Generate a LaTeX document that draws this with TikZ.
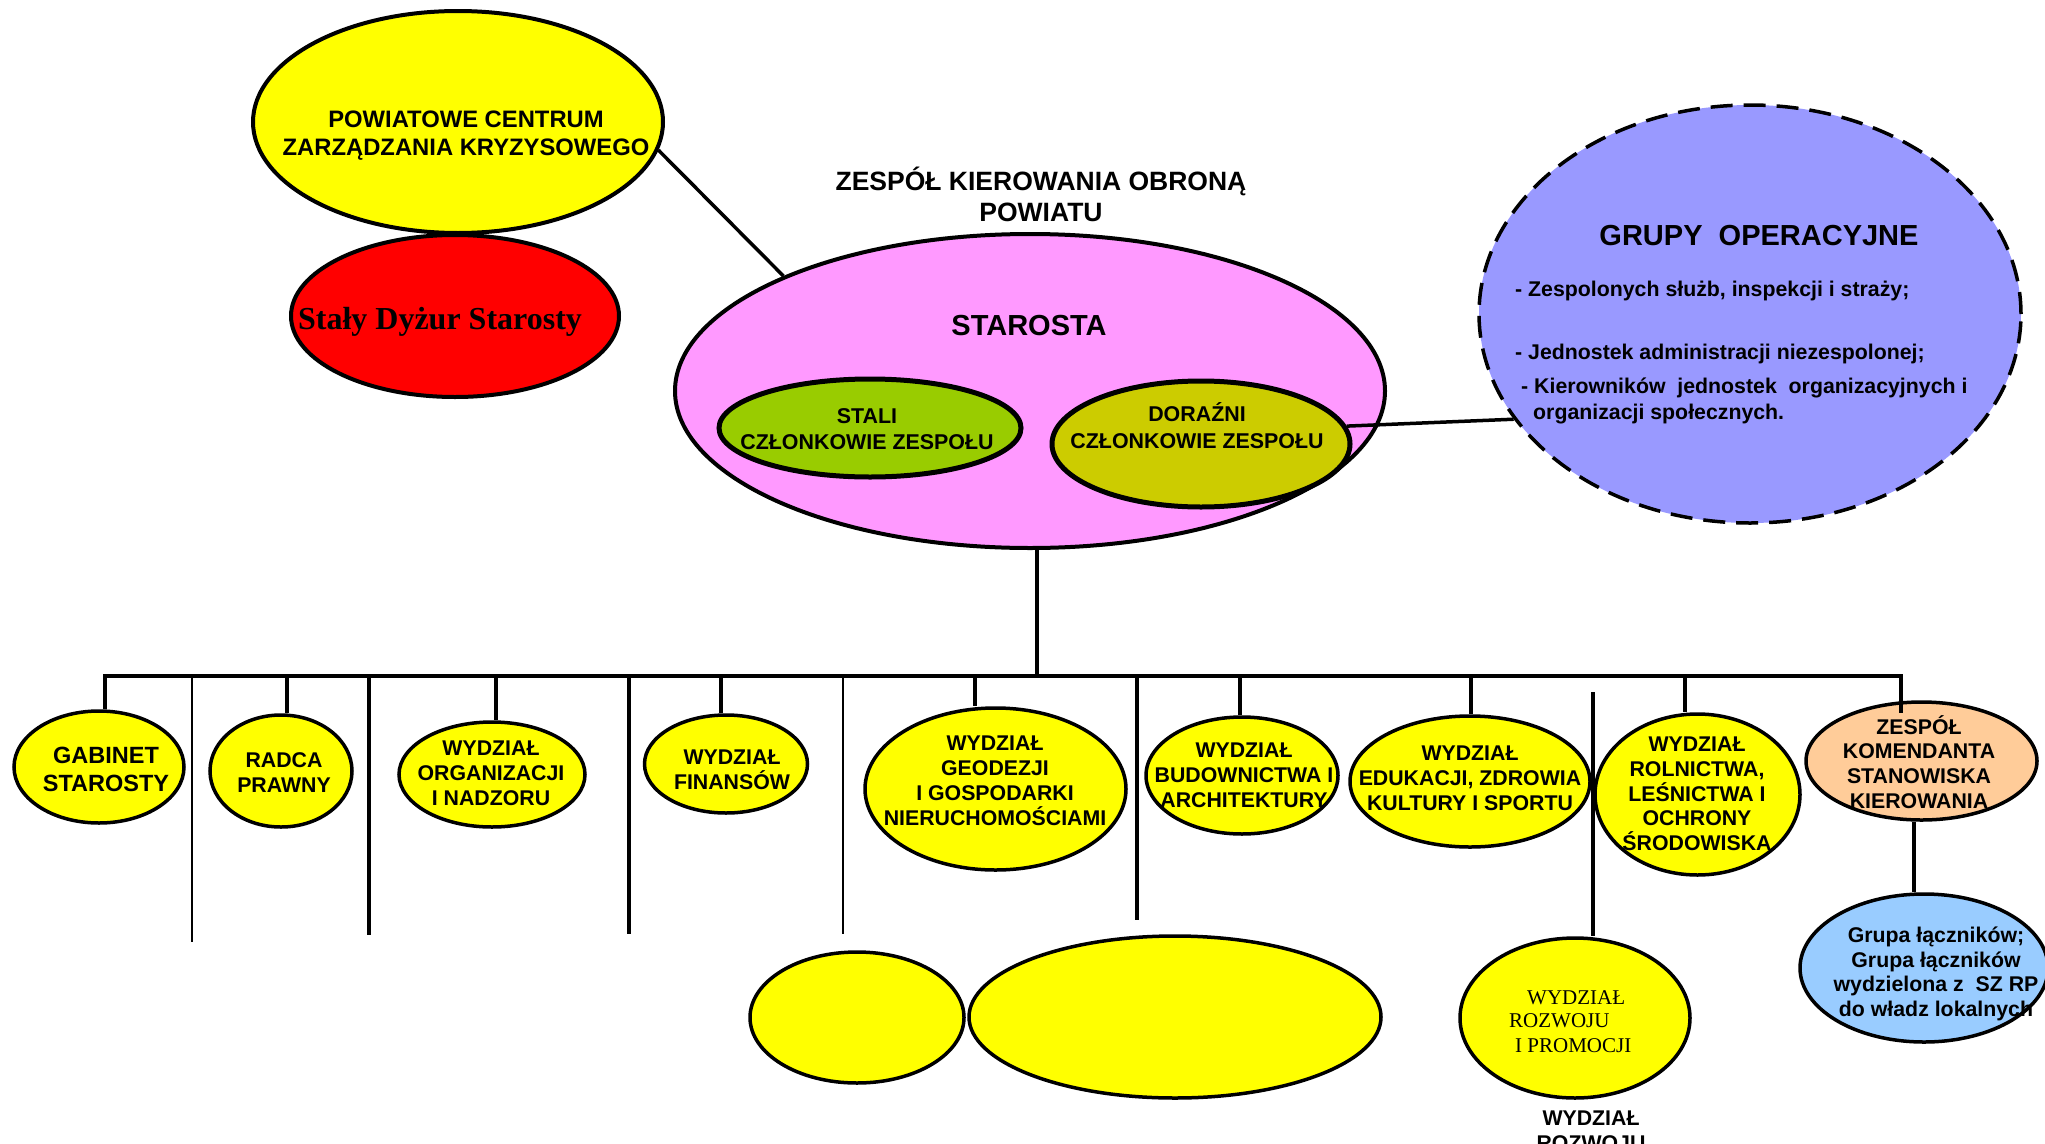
\documentclass[tikz,border=0pt]{standalone}
\usepackage{fontspec}
\setmainfont{Liberation Sans}
\newfontfamily\seriffont{Liberation Serif}
\usetikzlibrary{shapes.geometric}
\definecolor{cyel}{HTML}{FFFF00}
\definecolor{cred}{HTML}{FF0000}
\definecolor{cpink}{HTML}{FF99FF}
\definecolor{cgreen}{HTML}{99CC00}
\definecolor{colive}{HTML}{CCCC00}
\definecolor{cviolet}{HTML}{9999FF}
\definecolor{cpeach}{HTML}{FFCC99}
\definecolor{clblue}{HTML}{99CCFF}
\begin{document}
\begin{tikzpicture}[x=1pt,y=-1pt,
  ell/.style={ellipse, draw=black, line width=3.5pt, inner sep=0pt},
  bigell/.style={ellipse, draw=black, line width=4pt, inner sep=0pt},
  lbl/.style={font=\bfseries\fontsize{21.3}{25}\selectfont, align=center, inner sep=0pt},
  conn/.style={line width=4.3pt},
  thinconn/.style={line width=2.7pt},
  link/.style={line width=3.5pt},
]
\useasboundingbox (0,0) rectangle (2045,1143);

% ---------- upper part ----------
\node[bigell, fill=cyel, minimum width=410pt, minimum height=222pt] (pczk) at (458,122) {};
\node[font=\bfseries\fontsize{23.8}{28}\selectfont, align=center, inner sep=0pt] (pczkt) at (466,135.5) {POWIATOWE CENTRUM\\ZARZĄDZANIA KRYZYSOWEGO};

\node[bigell, fill=cred, minimum width=328pt, minimum height=162pt] (dyzur) at (455,316) {};
\node[font=\seriffont\bfseries\fontsize{32}{38}\selectfont, anchor=base, inner sep=0pt] (dyzurt) at (440,329) {Stały Dyżur Starosty};

\node[font=\bfseries\fontsize{26.5}{31}\selectfont, align=center, inner sep=0pt] (title) at (1041,194) {ZESPÓŁ KIEROWANIA OBRONĄ\\POWIATU};

\node[bigell, fill=cpink, minimum width=710pt, minimum height=314pt] (star) at (1030,391) {};
\node[font=\bfseries\fontsize{29}{34}\selectfont, anchor=base, inner sep=0pt] (start) at (1029,335.5) {STAROSTA};

\node[ell, line width=5pt, fill=cgreen, minimum width=302pt, minimum height=98pt] (stali) at (870,428) {};
\node[lbl, font=\bfseries\fontsize{21.4}{26}\selectfont] (stalit) at (867,429) {STALI\\CZŁONKOWIE ZESPOŁU};

\node[ell, line width=5pt, fill=colive, minimum width=298pt, minimum height=126pt] (dor) at (1201,444) {};
\node[lbl, font=\bfseries\fontsize{21.4}{27}\selectfont] (dort) at (1197,426) {DORAŹNI\\CZŁONKOWIE ZESPOŁU};

\node[ellipse, draw=black, line width=3.5pt, dash pattern=on 22pt off 11pt, fill=cviolet, inner sep=0pt, minimum width=542pt, minimum height=418pt] (grupy) at (1750,314) {};
\node[font=\bfseries\fontsize{29}{34}\selectfont, anchor=base, inner sep=0pt] (grupyt) at (1759,245.5) {GRUPY\ \ OPERACYJNE};
\node[font=\bfseries\fontsize{21.3}{25}\selectfont, anchor=base west, inner sep=0pt] (g1) at (1515,296.5) {- Zespolonych służb, inspekcji i straży;};
\node[font=\bfseries\fontsize{21.3}{25}\selectfont, anchor=base west, inner sep=0pt] (g2) at (1515,359.5) {- Jednostek administracji niezespolonej;};
\node[font=\bfseries\fontsize{21.3}{25}\selectfont, anchor=base west, inner sep=0pt] (g3) at (1521,393.5) {- Kierowników\ \ jednostek\ \ organizacyjnych i};
\node[font=\bfseries\fontsize{21.3}{25}\selectfont, anchor=base west, inner sep=0pt] (g4) at (1533,419.5) {organizacji społecznych.};

\draw[link] (pczk.-8) -- (star.155);
\draw[link] (dor.7) -- (grupy.204);

% ---------- bottom ellipses ----------
\node[ell, fill=cyel, minimum width=170pt, minimum height=112pt] (gab) at (99,767) {};
\node[lbl, font=\bfseries\fontsize{23.5}{28}\selectfont] (gabt) at (106,769) {GABINET\\STAROSTY};

\node[ell, fill=cyel, minimum width=142pt, minimum height=112pt] (rad) at (281,771) {};
\node[lbl] (radt) at (284,772.5) {RADCA\\PRAWNY};

\node[ell, fill=cyel, minimum width=186pt, minimum height=105pt] (org) at (492,774.5) {};
\node[lbl] (orgt) at (491,773) {WYDZIAŁ\\ORGANIZACJI\\I NADZORU};

\node[ell, fill=cyel, minimum width=163pt, minimum height=98pt] (fin) at (726,764) {};
\node[lbl] (fint) at (732,770) {WYDZIAŁ\\FINANSÓW};

\node[ell, fill=cyel, minimum width=261pt, minimum height=162pt] (geo) at (995.5,789) {};
\node[lbl] (geot) at (995,781) {WYDZIAŁ\\GEODEZJI\\I GOSPODARKI\\NIERUCHOMOŚCIAMI};

\node[ell, fill=cyel, minimum width=192pt, minimum height=117pt] (bud) at (1242,775.5) {};
\node[lbl] (budt) at (1244,775.5) {WYDZIAŁ\\BUDOWNICTWA I\\ARCHITEKTURY};

\node[ell, fill=cyel, minimum width=240pt, minimum height=131pt] (edu) at (1470,781.5) {};
\node[lbl] (edut) at (1470,778.5) {WYDZIAŁ\\EDUKACJI, ZDROWIA\\KULTURY I SPORTU};

\node[ell, fill=cyel, minimum width=205pt, minimum height=161pt] (rol) at (1697.5,794.5) {};
\node[lbl, font=\bfseries\fontsize{21.3}{24.75}\selectfont] (rolt) at (1697,794) {WYDZIAŁ\\ROLNICTWA,\\LEŚNICTWA I\\OCHRONY\\ŚRODOWISKA};

\node[ell, fill=cpeach, minimum width=231pt, minimum height=118pt] (zesp) at (1921.5,761) {};
\node[lbl, font=\bfseries\fontsize{21.3}{24.7}\selectfont] (zespt) at (1919,762) {ZESPÓŁ\\KOMENDANTA\\STANOWISKA\\KIEROWANIA};

\node[ell, fill=clblue, minimum width=248pt, minimum height=148pt] (lk) at (1924,968) {};
\node[lbl, font=\bfseries\fontsize{21.3}{24.7}\selectfont] (lkt) at (1936,974) {Grupa łączników;\\Grupa łączników\\wydzielona z\ \ SZ RP\\do władz lokalnych};

\node[ell, fill=cyel, minimum width=214pt, minimum height=131pt] (e1) at (857,1017.5) {};
\node[ell, fill=cyel, minimum width=412pt, minimum height=162pt] (e2) at (1175,1017) {};

\node[ell, fill=cyel, minimum width=230pt, minimum height=160pt] (roz) at (1575,1018) {};
\node[font=\seriffont\fontsize{21}{25}\selectfont, anchor=base west, inner sep=0pt] (roz1) at (1527,1004) {WYDZIAŁ};
\node[font=\seriffont\fontsize{21}{25}\selectfont, anchor=base west, inner sep=0pt] (roz2) at (1509,1027) {ROZWOJU};
\node[font=\seriffont\fontsize{21}{25}\selectfont, anchor=base west, inner sep=0pt] (roz3) at (1515,1052) {I PROMOCJI};

\node[font=\bfseries\fontsize{21.3}{25}\selectfont, anchor=base, inner sep=0pt] (rozb1) at (1591,1125.5) {WYDZIAŁ};
\node[font=\bfseries\fontsize{21.3}{25}\selectfont, anchor=base, inner sep=0pt] (rozb2) at (1591,1150.5) {ROZWOJU};

% ---------- connectors ----------
\coordinate (bL) at (105,676);
\coordinate (bR) at (1901,676);
\coordinate (zIn) at (1901,713);
\draw[conn] (bL |- gab.north) -- (bL) -- (bR) -- (zIn);

\coordinate (sSt) at (1037,676);
\draw[conn] (sSt) -- (sSt |- star.south);

\coordinate (sRad) at (287,676);
\draw[conn] (sRad) -- (sRad |- rad.north);
\coordinate (sOrg) at (496,676);
\draw[conn] (sOrg) -- (sOrg |- org.north);
\coordinate (sFin) at (721,676);
\draw[conn] (sFin) -- (sFin |- fin.north);
\coordinate (sGeo) at (975,676);
\draw[conn] (sGeo) -- (sGeo |- geo.north);
\coordinate (sBud) at (1240,676);
\draw[conn] (sBud) -- (sBud |- bud.north);
\coordinate (sEdu) at (1471,676);
\draw[conn] (sEdu) -- (sEdu |- edu.north);
\coordinate (sRol) at (1685,676);
\draw[conn] (sRol) -- (sRol |- rol.north);

% dangling lines
\coordinate (d1a) at (192,676);  \coordinate (d1b) at (192,942);
\draw[thinconn] (d1a) -- (d1b);
\coordinate (d2a) at (369,676);  \coordinate (d2b) at (369,935);
\draw[conn] (d2a) -- (d2b);
\coordinate (d3a) at (629,676);  \coordinate (d3b) at (629,934);
\draw[conn] (d3a) -- (d3b);
\coordinate (d4a) at (843,676);  \coordinate (d4b) at (843,934);
\draw[thinconn] (d4a) -- (d4b);
\coordinate (d5a) at (1137,676); \coordinate (d5b) at (1137,920);
\draw[conn] (d5a) -- (d5b);
\coordinate (d6a) at (1593,692); \coordinate (d6b) at (1593,936);
\draw[conn] (d6a) -- (d6b);

\draw[conn] (zesp.south -| 1914,0) -- (1914,0 |- lk.north);
\end{tikzpicture}
\end{document}
